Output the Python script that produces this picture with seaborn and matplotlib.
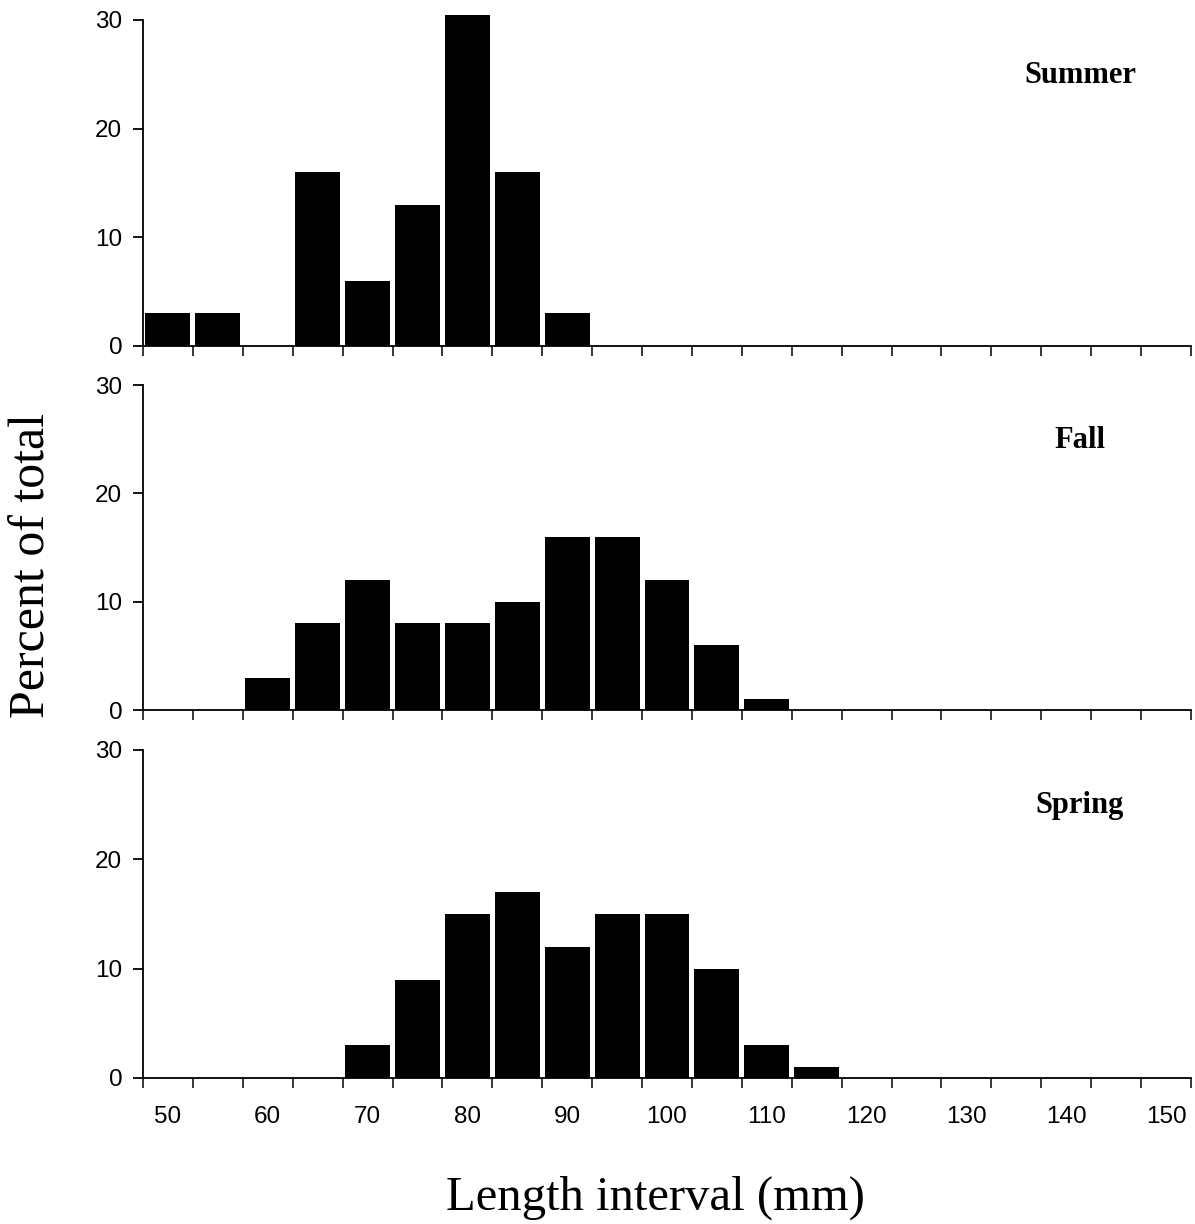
import numpy as np
import pandas as pd
import seaborn as sns
import matplotlib.pyplot as plt

# length bins (mm) and percent of total per season
bins = list(range(50, 155, 5))
summer = [3, 3, 0, 16, 6, 13, 30.5, 16, 3, 0, 0, 0, 0, 0, 0, 0, 0, 0, 0, 0, 0]
fall = [0, 0, 3, 8, 12, 8, 8, 10, 16, 16, 12, 6, 1, 0, 0, 0, 0, 0, 0, 0, 0]
spring = [0, 0, 0, 0, 3, 9, 15, 17, 12, 15, 15, 10, 3, 1, 0, 0, 0, 0, 0, 0, 0]
seasons = ["Summer", "Fall", "Spring"]

sns.set_style("ticks")
plt.rcParams['font.family'] = ['Liberation Sans', 'DejaVu Sans']
plt.rcParams['text.color'] = 'black'

fig = plt.figure(figsize=(11.95, 12.24), dpi=100)
W, H = 1195, 1224
left, right = 143, 1191
panels = [(20, 346), (385, 710), (750, 1078)]

order = [str(b) for b in bins]
for (top, bot), name, vals in zip(panels, seasons, [summer, fall, spring]):
    ax = fig.add_axes([left / W, 1 - bot / H, (right - left) / W, (bot - top) / H])
    df = pd.DataFrame({'bin': order, 'pct': vals})
    sns.barplot(data=df, x='bin', y='pct', order=order, color='black',
                width=0.9, saturation=1, linewidth=0, ax=ax)
    for p in ax.patches:
        p.set_clip_on(False)
    ax.set_xlim(-0.5, len(bins) - 0.5)
    ax.set_ylim(0, 30)
    ax.set_yticks([0, 10, 20, 30])
    ax.set_xticks(np.arange(-0.5, len(bins), 1.0), minor=True)
    ax.set_xticks(np.arange(0, len(bins), 2))
    ax.set_xticklabels([str(b) for b in bins[::2]])
    ax.tick_params(axis='x', which='major', length=0, pad=20)
    ax.tick_params(axis='x', which='minor', length=7, width=1.3, direction='out')
    ax.tick_params(axis='y', length=7, width=1.3, direction='out', pad=8)
    ax.tick_params(labelsize=17.5, colors='black', labelcolor='black')
    if name != "Spring":
        ax.set_xticklabels([])
    ax.set_xlabel('')
    ax.set_ylabel('')
    for s in ['left', 'bottom']:
        ax.spines[s].set_linewidth(1.3)
        ax.spines[s].set_color('black')
    sns.despine(ax=ax)
    ax.text(0.894, 0.83, name, transform=ax.transAxes, ha='center', va='center',
            fontsize=22, fontweight='bold', family='Liberation Serif', color='black')

fig.text(32 / W, 1 - 565 / H, 'Percent of total', rotation=90, ha='center',
         va='center', fontsize=36, family='Liberation Serif', color='black')
fig.text(655 / W, 1 - 1210 / H, 'Length interval (mm)', ha='center',
         va='baseline', fontsize=35, family='Liberation Serif', color='black')

fig.savefig('out.png', dpi=100)
